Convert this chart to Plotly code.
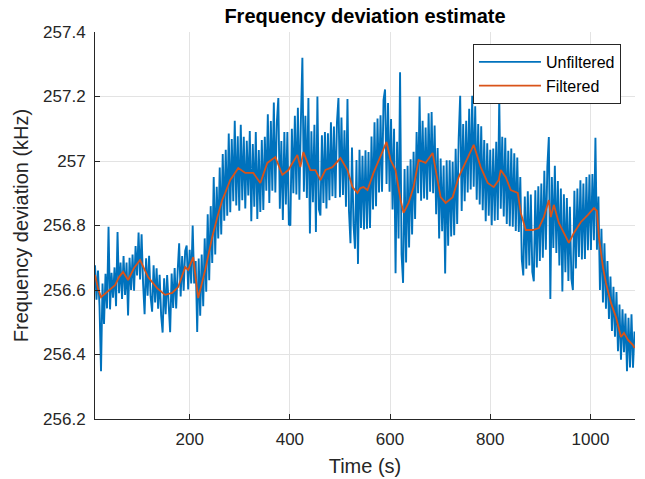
import numpy as np
import plotly.graph_objects as go

# unfiltered estimate, one sample every 3 s starting at t = 11 s (kHz)
t_start = 11
t_step = 3
unfiltered_khz = [
    256.677, 256.570, 256.660, 256.550, 256.348, 256.620, 256.495, 256.650, 256.543, 256.796,
    256.540, 256.653, 256.576, 256.670, 256.550, 256.780, 256.590, 256.685, 256.572, 256.705,
    256.585, 256.685, 256.521, 256.700, 256.600, 256.710, 256.598, 256.736, 256.645, 256.778,
    256.633, 256.773, 256.620, 256.525, 256.698, 256.582, 256.706, 256.580, 256.533, 256.677,
    256.561, 256.667, 256.542, 256.647, 256.522, 256.468, 256.636, 256.525, 256.646, 256.548,
    256.469, 256.651, 256.544, 256.668, 256.543, 256.658, 256.745, 256.580, 256.705, 256.598,
    256.721, 256.738, 256.602, 256.725, 256.620, 256.800, 256.620, 256.690, 256.470, 256.698,
    256.520, 256.710, 256.550, 256.760, 256.595, 256.835, 256.630, 256.860, 256.684, 256.950,
    256.710, 256.920, 256.760, 256.980, 256.772, 257.022, 256.815, 257.035, 256.830, 257.085,
    256.841, 257.068, 256.875, 257.125, 256.862, 257.077, 256.846, 257.112, 256.878, 257.075,
    256.853, 257.063, 256.893, 257.093, 256.813, 257.053, 256.858, 257.090, 256.820, 257.034,
    256.842, 257.065, 256.848, 257.075, 256.908, 257.145, 256.870, 257.124, 256.908, 257.181,
    256.902, 257.120, 257.195, 256.852, 257.062, 256.817, 257.090, 256.865, 257.090, 256.803,
    256.800, 257.100, 256.900, 257.140, 256.896, 257.165, 256.880, 257.125, 257.320, 256.905,
    257.140, 256.885, 257.195, 256.775, 257.092, 256.872, 257.112, 256.780, 257.200, 256.850,
    256.831, 257.080, 256.870, 257.090, 256.853, 257.086, 256.878, 257.120, 256.891, 257.107,
    256.885, 257.120, 257.195, 256.888, 257.135, 256.895, 257.095, 256.858, 257.192, 256.845,
    256.745, 257.042, 256.805, 256.728, 257.003, 256.681, 257.035, 256.792, 257.016, 256.788,
    257.033, 256.790, 257.028, 256.792, 257.076, 256.850, 257.120, 256.860, 257.132, 256.902,
    257.142, 256.905, 257.190, 257.222, 256.929, 257.180, 256.905, 257.130, 256.850, 257.100,
    256.652, 257.060, 256.760, 257.275, 256.710, 256.622, 256.975, 256.685, 256.985, 256.732,
    257.005, 256.772, 257.029, 256.820, 257.090, 256.900, 257.200, 256.877, 257.125, 256.884,
    257.104, 256.880, 257.148, 256.905, 257.152, 256.900, 257.110, 256.835, 257.040, 256.760,
    257.008, 256.782, 256.986, 256.651, 257.002, 256.737, 257.002, 256.766, 256.998, 256.770,
    257.038, 256.805, 257.070, 257.202, 256.845, 257.115, 256.875, 257.125, 256.902, 257.162,
    256.912, 257.202, 256.920, 257.170, 256.880, 257.115, 256.865, 257.108, 256.847, 257.065,
    256.813, 257.055, 256.830, 257.035, 256.801, 257.039, 256.815, 257.060, 256.817, 257.195,
    256.852, 257.075, 256.828, 257.072, 256.805, 257.032, 256.798, 257.039, 256.796, 257.024,
    256.783, 257.011, 256.780, 256.950, 256.695, 256.645, 256.890, 256.666, 256.906, 256.676,
    256.896, 256.656, 256.627, 256.909, 256.670, 256.922, 256.690, 256.930, 256.700, 256.970,
    256.725, 256.982, 257.074, 256.572, 256.950, 256.730, 256.985, 256.715, 256.938, 256.676,
    256.915, 256.595, 256.897, 256.655, 256.885, 256.628, 256.858, 256.635, 256.600, 256.908,
    256.667, 256.915, 256.702, 256.940, 256.695, 256.930, 256.696, 256.950, 256.723, 256.958,
    256.724, 256.960, 256.754, 257.072, 256.725, 256.890, 256.600, 256.790, 256.561, 256.745,
    256.542, 256.690, 256.510, 256.642, 256.473, 256.610, 256.455, 256.594, 256.410, 256.555,
    256.384, 256.540, 256.407, 256.527, 256.348, 256.514, 256.360, 256.525, 256.359, 256.471,
]

# filtered estimate
filtered_t = [
    11, 17, 23, 35, 51, 59, 67, 77, 89, 101, 117, 135, 151, 165, 177, 191, 197, 207, 217,
    231, 245, 255, 265, 271, 281, 285, 297, 311, 327, 341, 355, 371, 385, 397, 415, 421,
    427, 441, 451, 461, 471, 485, 501, 515, 525, 535, 541, 547, 555, 567, 581, 593, 601,
    611, 621, 627, 637, 647, 657, 671, 685, 691, 701, 711, 725, 737, 755, 767, 781, 795,
    807, 817, 821, 831, 841, 855, 861, 871, 885, 897, 907, 917, 921, 927, 937, 947, 957,
    967, 981, 995, 1007, 1013, 1017, 1025, 1031, 1041, 1051, 1061, 1067, 1075, 1085, 1088,
]
filtered_khz = [
    256.647, 256.605, 256.578, 256.594, 256.615, 256.640, 256.656, 256.631, 256.668, 256.693,
    256.640, 256.606, 256.585, 256.591, 256.609, 256.671, 256.662, 256.702, 256.575,
    256.662, 256.764, 256.825, 256.879, 256.901, 256.941, 256.950, 256.978, 256.963, 256.963,
    256.932, 256.994, 257.012, 256.957, 256.972, 257.019, 256.981,
    257.028, 256.972, 256.972, 256.941, 256.972, 256.981, 257.009, 256.972, 256.919, 256.901,
    256.916, 256.919, 256.910, 256.963, 257.012, 257.059, 257.003,
    256.972, 256.879, 256.839, 256.870, 256.919, 257.003, 256.994, 257.025, 256.972, 256.888,
    256.870, 256.888, 256.950, 257.012, 257.050, 256.981, 256.932,
    256.919, 256.941, 256.972, 256.950, 256.910, 256.901, 256.839, 256.786, 256.786, 256.792,
    256.826, 256.879, 256.826, 256.864, 256.808, 256.777, 256.746,
    256.777, 256.811, 256.833, 256.854, 256.845, 256.764, 256.671, 256.622, 256.560, 256.516,
    256.454, 256.467, 256.445, 256.429, 256.420,
]

y_ticks = [256.2, 256.4, 256.6, 256.8, 257.0, 257.2, 257.4]
y_tick_text = ["256.2", "256.4", "256.6", "256.8", "257", "257.2", "257.4"]
x_ticks = [200, 400, 600, 800, 1000]

t = t_start + t_step * np.arange(len(unfiltered_khz))

fig = go.Figure()
fig.add_trace(go.Scatter(x=t, y=unfiltered_khz, mode="lines", name="Unfiltered",
                         line=dict(color="#0072BD", width=1.9)))
fig.add_trace(go.Scatter(x=filtered_t, y=filtered_khz, mode="lines", name="Filtered",
                         line=dict(color="#D95319", width=1.8)))

axis_font = dict(family="Liberation Sans, Arial, sans-serif", size=17, color="#262626")

fig.update_layout(
    width=645, height=479,
    margin=dict(l=95, r=10, t=32, b=60),
    paper_bgcolor="white", plot_bgcolor="white",
    font=axis_font,
    title=dict(text="<b>Frequency deviation estimate</b>", x=0.5, xref="paper",
               y=0.966, yanchor="middle",
               font=dict(family="Liberation Sans, Arial, sans-serif", size=20, color="black")),
    legend=dict(x=0.974, y=0.969, xanchor="right", yanchor="top",
                bgcolor="white", bordercolor="#262626", borderwidth=1,
                font=dict(size=16, color="black"), tracegroupgap=0, itemwidth=62),
    showlegend=True,
)
fig.update_xaxes(range=[t_start, 1089], tickvals=x_ticks, ticks="inside", ticklen=5,
                 tickcolor="#262626", showline=True, linecolor="#262626", linewidth=1,
                 showgrid=True, gridcolor="#e3e3e3", zeroline=False, ticklabelstandoff=5,
                 automargin=False,
                 title=dict(text="Time (s)", font=dict(size=20), standoff=10))
fig.update_yaxes(range=[256.2, 257.4], tickvals=y_ticks, ticktext=y_tick_text,
                 ticks="inside", ticklen=5, tickcolor="#262626",
                 showline=True, linecolor="#262626", linewidth=1,
                 showgrid=True, gridcolor="#e3e3e3", zeroline=False, ticklabelstandoff=5,
                 automargin=False,
                 title=dict(text="Frequency deviation (kHz)", font=dict(size=20), standoff=9))

# drop the default page margin so the figure fills the window exactly
fig.write_html("out.html", config={"displayModeBar": False},
               post_script="document.body.style.margin = '0';")
